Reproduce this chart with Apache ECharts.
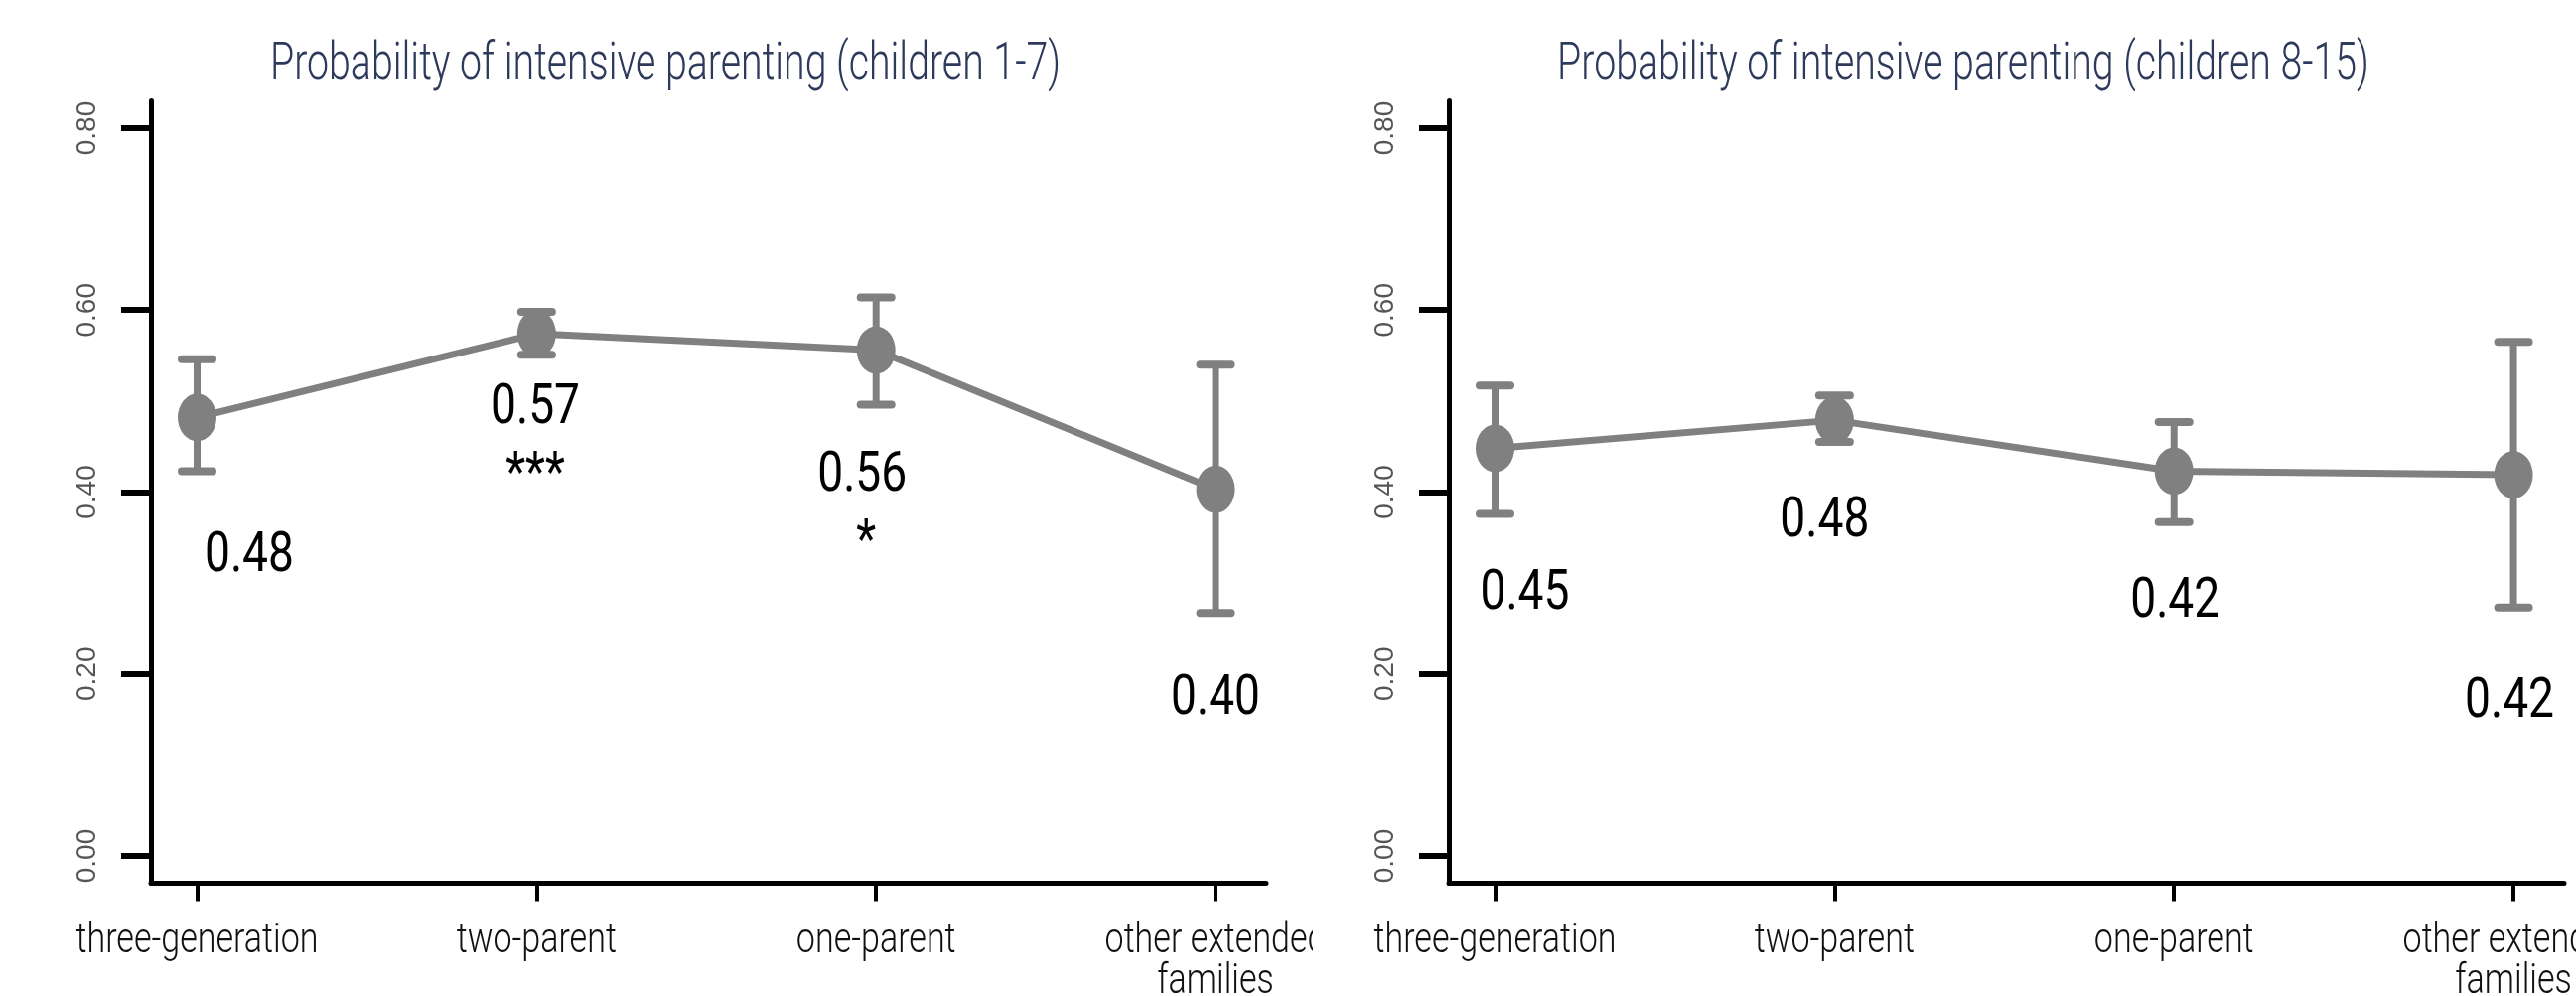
<!DOCTYPE html>
<html><head><meta charset="utf-8">
<script src="https://cdn.jsdelivr.net/npm/echarts@6/dist/echarts.min.js"></script>
<style>
html,body{margin:0;padding:0;background:#fff;width:2594px;height:1003px;overflow:hidden;}
#left{position:absolute;left:0;top:0;width:1322px;height:1003px;}
#right{position:absolute;left:1307px;top:0;width:1287px;height:1003px;}
</style></head><body>
<div id="left"></div><div id="right"></div>
<script>
// ---- data ----
const categories = ['three-generation', 'two-parent', 'one-parent', 'other extended\nfamilies'];
const yTicks = [0, 0.2, 0.4, 0.6, 0.8];

const titleYoung = 'Probability of intensive parenting (children 1-7)';
const meanYoung = [0.482, 0.574, 0.556, 0.403];
const loYoung   = [0.423, 0.551, 0.496, 0.267];
const hiYoung   = [0.546, 0.598, 0.614, 0.540];
const labelsYoung = ['0.48', '0.57', '0.56', '0.40'];
const starsYoung  = ['', '***', '*', ''];

const titleOld = 'Probability of intensive parenting (children 8-15)';
const meanOld = [0.448, 0.479, 0.423, 0.419];
const loOld   = [0.376, 0.455, 0.367, 0.273];
const hiOld   = [0.517, 0.506, 0.477, 0.565];
const labelsOld = ['0.45', '0.48', '0.42', '0.42'];
const starsOld  = ['', '', '', ''];

// ---- layout / style ----
const offYoung = [[52.5, 141], [-1.3, 76], [-14, 127.4], [0, 212]];
const offOld   = [[30, 147.5], [-10, 103], [1, 132.6], [-4, 230]];
const starDx = [0, 0, 4, 0];

const GRAY = '#808080';
const TITLE_FONT = '300 53px Roboto';
const XLAB_FONT = '300 42px Roboto';
const VAL_FONT = '400 55px Roboto';

function measure(text, font) {
  const c = document.createElement('canvas').getContext('2d');
  c.font = font;
  return c.measureText(text).width;
}
const titleScale = 796 / measure(titleYoung, TITLE_FONT);
const xLabScale = 244 / measure('three-generation', XLAB_FONT);
const valScale = 90 / measure('0.48', VAL_FONT);

function build(el, cfg) {
  const W = el.clientWidth, H = 1003;
  const axisLeft = 152, axisRight = 1275, axisTop = 101.5, axisBottom = 889.5;
  const xMin = -0.136, xMax = 3.149, yMin = -0.03, yMax = 0.83;
  const idx = categories.map((_, i) => i);
  const chart = echarts.init(el, null, { renderer: 'canvas' });
  chart.setOption({
    animation: false,
    grid: { left: axisLeft, right: W - axisRight, top: axisTop, bottom: H - axisBottom, outerBoundsMode: 'none' },
    xAxis: {
      type: 'value', min: xMin, max: xMax,
      splitLine: { show: false },
      axisLine: { show: true, onZero: false, lineStyle: { color: '#000', width: 5 } },
      axisTick: { show: true, customValues: idx, length: 18, lineStyle: { color: '#000', width: 4 } },
      axisLabel: { show: false }
    },
    yAxis: {
      type: 'value', min: yMin, max: yMax,
      splitLine: { show: false },
      axisLine: { show: true, onZero: false, lineStyle: { color: '#000', width: 5 } },
      axisTick: { show: true, customValues: yTicks, length: 30, lineStyle: { color: '#000', width: 6 } },
      axisLabel: { show: true, customValues: yTicks, rotate: 90, margin: 50,
        formatter: v => Number(v).toFixed(2),
        fontFamily: 'Liberation Sans', fontSize: 28, color: '#555' }
    },
    graphic: [{
      type: 'text', x: 670, y: 67, scaleX: titleScale,
      style: { text: cfg.title, font: TITLE_FONT, fill: '#2e3a5c', align: 'center', verticalAlign: 'middle' }
    }],
    series: [
      {
        type: 'custom', name: 'ci', z: 2,
        data: idx.map(i => [i, cfg.lo[i], cfg.hi[i]]),
        encode: { x: 0, y: [1, 2] },
        renderItem: function (params, api) {
          const x = api.value(0);
          const t = api.coord([x, api.value(2)]);
          const b = api.coord([x, api.value(1)]);
          const hw = 15.5;
          return { type: 'group', children: [
            { type: 'line', shape: { x1: t[0], y1: t[1], x2: b[0], y2: b[1] }, style: { stroke: GRAY, lineWidth: 7 } },
            { type: 'line', shape: { x1: t[0] - hw, y1: t[1], x2: t[0] + hw, y2: t[1] }, style: { stroke: GRAY, lineWidth: 8, lineCap: 'round' } },
            { type: 'line', shape: { x1: b[0] - hw, y1: b[1], x2: b[0] + hw, y2: b[1] }, style: { stroke: GRAY, lineWidth: 8, lineCap: 'round' } }
          ] };
        }
      },
      {
        type: 'line', name: 'mean', z: 3,
        data: idx.map(i => [i, cfg.mean[i]]),
        symbol: 'circle', symbolSize: [39, 48],
        lineStyle: { color: GRAY, width: 7 },
        itemStyle: { color: GRAY }
      },
      {
        type: 'custom', name: 'values', z: 5,
        data: idx.map(i => [i, cfg.mean[i]]),
        encode: { x: 0, y: 1 },
        renderItem: function (params, api) {
          const i = params.dataIndex;
          const p = api.coord([api.value(0), api.value(1)]);
          const o = cfg.off[i];
          const children = [{
            type: 'text', x: p[0] + o[0], y: p[1] + o[1], scaleX: valScale,
            style: { text: cfg.labels[i], font: VAL_FONT, fill: '#000', align: 'center', verticalAlign: 'middle' }
          }];
          if (cfg.stars[i]) {
            children.push({
              type: 'text', x: p[0] + o[0] + starDx[i], y: p[1] + o[1] + 68, scaleX: valScale,
              style: { text: cfg.stars[i], font: VAL_FONT, fill: '#000', align: 'center', verticalAlign: 'middle' }
            });
          }
          return { type: 'group', children: children };
        }
      },
      {
        type: 'custom', name: 'categories', z: 5,
        data: idx.map(i => [i, yMin]),
        encode: { x: 0, y: 1 },
        renderItem: function (params, api) {
          const i = params.dataIndex;
          const p = api.coord([api.value(0), api.value(1)]);
          return {
            type: 'text', x: p[0], y: p[1] + 38, scaleX: xLabScale,
            style: { text: categories[i], font: XLAB_FONT, fill: '#111', align: 'center', verticalAlign: 'top', lineHeight: 41 }
          };
        }
      }
    ]
  });
  return chart;
}

build(document.getElementById('left'), {
  title: titleYoung, mean: meanYoung, lo: loYoung, hi: hiYoung,
  labels: labelsYoung, stars: starsYoung, off: offYoung
});
build(document.getElementById('right'), {
  title: titleOld, mean: meanOld, lo: loOld, hi: hiOld,
  labels: labelsOld, stars: starsOld, off: offOld
});
</script>
</body></html>
